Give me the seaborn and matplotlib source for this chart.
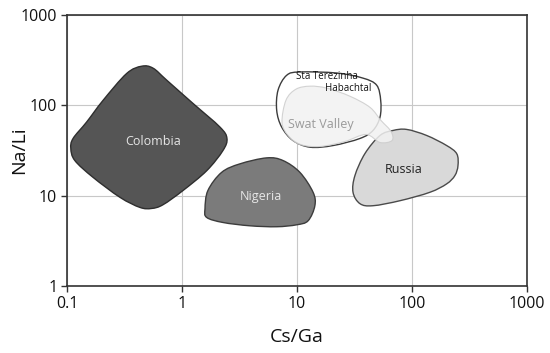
import numpy as np
import matplotlib
matplotlib.use("Agg")
import matplotlib.pyplot as plt
import seaborn as sns
from matplotlib.path import Path
from matplotlib.patches import PathPatch

# Outlines of the fields (Cs/Ga, Na/Li)
colombia_x = [0.446, 0.560, 0.736, 1.246, 2.14, 2.46, 2.27, 1.64, 1.02, 0.684,
              0.545, 0.431, 0.289, 0.168, 0.117, 0.108, 0.113, 0.148, 0.206, 0.330]
colombia_y = [271, 258, 190, 105, 57.4, 43.0, 31.6, 18.9, 11.4, 7.94,
              7.22, 7.41, 9.58, 16.0, 24.5, 33.3, 43.0, 65.2, 113.6, 225]

nigeria_x = [2.21, 3.19, 5.45, 7.55, 10.6, 13.8, 14.3, 12.5, 9.94, 6.66,
             3.90, 2.27, 1.64, 1.585, 1.68]
nigeria_y = [18.1, 22.5, 26.2, 24.5, 18.1, 10.9, 7.74, 5.28, 4.76, 4.53,
             4.64, 5.05, 5.74, 7.17, 11.4]

russia_x = [52.7, 68.4, 89.9, 134, 200, 245, 251, 236, 200, 143,
            78.7, 45.8, 35.3, 30.7, 31.9, 39.0]
russia_y = [46.4, 52.7, 54.1, 46.4, 35.9, 29.1, 21.5, 16.7, 13.5, 10.9,
            8.80, 7.74, 8.15, 10.9, 16.7, 29.3]

terezinha_x = [8.13, 10.6, 22.1, 37.5, 49.3, 53.4, 52.7, 45.8, 35.3, 20.6,
               13.0, 9.23, 7.36, 6.66, 6.84]
terezinha_y = [215, 234, 228, 200, 167, 114, 74.1, 52.7, 43.0, 35.9,
               34.4, 40.8, 57.4, 88.0, 147]

swat_x = [7.41, 8.02, 9.80, 13.0, 18.2, 28.9, 43.1, 53.7, 65.7, 67.0,
          52.7, 39.8, 26.1, 15.8, 10.6, 8.35]
swat_y = [64.7, 114, 151, 163, 155, 126, 95, 68.1, 51.4, 40.8,
          38.8, 47.6, 39.8, 35.0, 36.9, 46.4]

ticks_x = [0.1, 1, 10, 100, 1000]
ticks_y = [1, 10, 100, 1000]
tick_labels_x = ["0.1", "1", "10", "100", "1000"]
tick_labels_y = ["1", "10", "100", "1000"]


def smooth_outline(xs, ys):
    # closed smooth curve through the points, built in log space
    p = np.column_stack([np.log10(xs), np.log10(ys)])
    n = len(p)
    verts = [p[0]]
    codes = [Path.MOVETO]
    for i in range(n):
        p0, p1, p2, p3 = p[i - 1], p[i], p[(i + 1) % n], p[(i + 2) % n]
        verts += [p1 + (p2 - p0) / 6, p2 - (p3 - p1) / 6, p2]
        codes += [Path.CURVE4] * 3
    verts.append(p[0])
    codes.append(Path.CLOSEPOLY)
    return Path(10 ** np.array(verts), codes)


sns.set_theme(style="white")
plt.rcParams['font.family'] = ['Open Sans', 'DejaVu Sans']

fig = plt.figure(figsize=(5.5, 3.53), dpi=100)
ax = fig.add_axes([0.1218, 0.1898, 0.8364, 0.7677])
ax.set_xscale("log")
ax.set_yscale("log")
ax.set_xlim(0.1, 1000)
ax.set_ylim(1, 1000)

ax.add_patch(PathPatch(smooth_outline(colombia_x, colombia_y),
                       facecolor="#555555", edgecolor="#2e2e2e", lw=1.0, zorder=2))
ax.add_patch(PathPatch(smooth_outline(nigeria_x, nigeria_y),
                       facecolor="#7b7b7b", edgecolor="#3c3c3c", lw=1.0, zorder=2))
ax.add_patch(PathPatch(smooth_outline(russia_x, russia_y),
                       facecolor="#d9d9d9", edgecolor="#4a4a4a", lw=1.0, zorder=2))
ax.add_patch(PathPatch(smooth_outline(terezinha_x, terezinha_y),
                       facecolor="white", edgecolor="#3c3c3c", lw=1.0, zorder=2))
ax.add_patch(PathPatch(smooth_outline(swat_x, swat_y),
                       facecolor="#f2f2f2", edgecolor="#cccccc", lw=0.8,
                       alpha=0.85, zorder=3))

ax.text(0.56, 39.8, "Colombia", color="#e6e6e6", fontsize=9,
        ha="center", va="center", zorder=4)
ax.text(4.86, 9.75, "Nigeria", color="#e6e6e6", fontsize=9,
        ha="center", va="center", zorder=4)
ax.text(85.2, 19.4, "Russia", color="#222222", fontsize=9,
        ha="center", va="center", zorder=4)
ax.text(16.2, 61.5, "Swat Valley", color="#9a9a9a", fontsize=9,
        ha="center", va="center", zorder=4)
ax.text(18.2, 210, "Sta Terezinha", color="#111111", fontsize=7,
        ha="center", va="center", zorder=4)
ax.text(27.8, 155, "Habachtal", color="#111111", fontsize=7,
        ha="center", va="center", zorder=4)

ax.set_xticks(ticks_x, tick_labels_x)
ax.set_yticks(ticks_y, tick_labels_y)
ax.minorticks_off()
ax.grid(True, which="major", color="#c8c8c8", lw=0.8)
ax.set_axisbelow(True)
ax.tick_params(direction="out", length=4, width=1, color="#333333",
               labelsize=11.5, labelcolor="#111111", pad=3,
               bottom=True, left=True)
for s in ax.spines.values():
    s.set_color("#333333")
    s.set_linewidth(1.2)

ax.set_xlabel("Cs/Ga", fontsize=14, color="#111111", labelpad=12)
ax.set_ylabel("Na/Li", fontsize=14, color="#111111")
ax.yaxis.set_label_coords(-0.085, 0.5)

fig.savefig("out.png", dpi=100)
